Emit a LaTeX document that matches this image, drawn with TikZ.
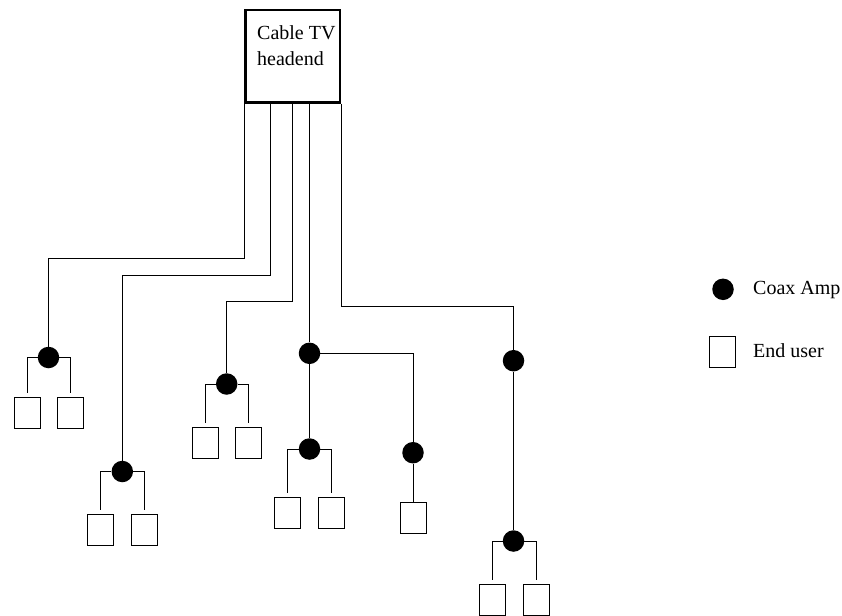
\documentclass[tikz,border=0pt]{standalone}
\usepackage{fontspec}
\setmainfont{Liberation Serif}
\usetikzlibrary{positioning,calc}

\begin{document}
\begin{tikzpicture}[x=1pt,y=-1pt,font=\fontsize{20}{26}\selectfont,feed/.style={draw=black,line width=0.8pt},amp/.style={circle,fill=black,minimum size=21.5pt,inner sep=0pt},enduser/.style={rectangle,draw=black,line width=0.8pt,minimum width=26pt,minimum height=31pt,inner sep=0pt,anchor=north},headbox/.style={rectangle,draw=black,line width=2.5pt,minimum width=94.5pt,minimum height=92.5pt},keytext/.style={anchor=base west,inner sep=0pt}]
\useasboundingbox (0,0) rectangle (842,615);
% headend
\node[headbox] (headend) at (292.5,56.5) {};
\node[inner sep=0pt,anchor=north west,align=left] (headtxt) at (257,25) {Cable TV\\headend};
\coordinate (f1) at (headend.south west);
\coordinate (f2) at (270.5,103);
\coordinate (f3) at (292.5,103);
\coordinate (f4) at (309.5,103);
\coordinate (f5) at (headend.south east);
% coax amps
\node[amp] (a1) at (48.5,357.5) {};
\node[amp] (a2) at (122.3,471.5) {};
\node[amp] (a3) at (226.7,384) {};
\node[amp] (a4) at (309.5,353.3) {};
\node[amp] (a5) at (309.5,449) {};
\node[amp] (a6) at (413,452.7) {};
\node[amp] (a7) at (513.5,360.7) {};
\node[amp] (a8) at (513.5,541) {};
% end users
\node[enduser] (u1a) at (27,397) {};
\node[enduser] (u1b) at (70,397) {};
\node[enduser] (u2a) at (100.3,514) {};
\node[enduser] (u2b) at (144.2,514) {};
\node[enduser] (u3a) at (205,427.3) {};
\node[enduser] (u3b) at (248.7,427.3) {};
\node[enduser] (u5a) at (287.7,496.7) {};
\node[enduser] (u5b) at (331,496.7) {};
\node[enduser] (u6) at (413,501.7) {};
\node[enduser] (u8a) at (492,584) {};
\node[enduser] (u8b) at (536,584) {};
% feeds from the headend
\draw[feed] (f1) -- ++(0,154.7) -| (a1.north);
\draw[feed] (f2) -- ++(0,172) -| (a2.north);
\draw[feed] (f3) -- ++(0,198) -| (a3.north);
\draw[feed] (f4) -- (a4) -- (a5);
\draw[feed] (a4) -| (a6) -- (u6);
\draw[feed] (f5) -- ++(0,202.3) -| (a7.north);
\draw[feed] (a7) -- (a8);
% branches to the end users
\draw[feed,shorten >=4pt] (a1) -| (u1a);
\draw[feed,shorten >=4pt] (a1) -| (u1b);
\draw[feed,shorten >=4pt] (a2) -| (u2a);
\draw[feed,shorten >=4pt] (a2) -| (u2b);
\draw[feed,shorten >=4pt] (a3) -| (u3a);
\draw[feed,shorten >=4pt] (a3) -| (u3b);
\draw[feed,shorten >=4pt] (a5) -| (u5a);
\draw[feed,shorten >=4pt] (a5) -| (u5b);
\draw[feed,shorten >=4pt] (a8) -| (u8a);
\draw[feed,shorten >=4pt] (a8) -| (u8b);
% key
\node[amp] (keyamp) at (723,289.3) {};
\node[keytext] (keyamptxt) at (753,294.3) {Coax Amp};
\node[enduser] (keyuser) at (722.5,336) {};
\node[keytext] (keyusertxt) at (753,357.3) {End user};
\end{tikzpicture}
\end{document}
